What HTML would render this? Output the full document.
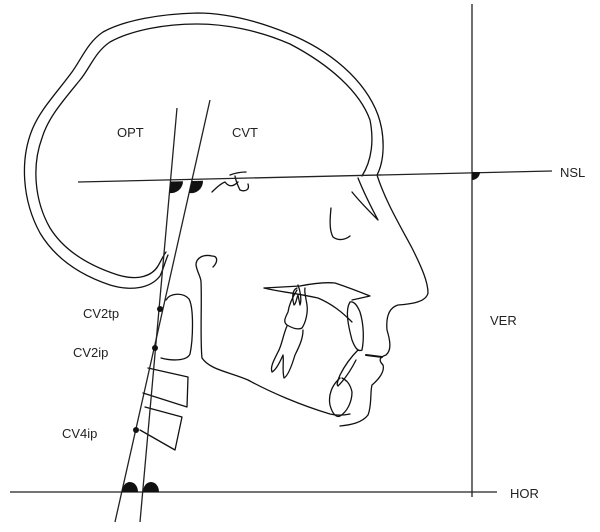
<!DOCTYPE html>
<html><head><style>
html,body{margin:0;padding:0;background:#fff;}
svg{display:block;}
text{font-family:"Liberation Sans",sans-serif;font-size:13px;fill:#222;}
</style></head><body>
<svg width="600" height="532" viewBox="0 0 600 532" xmlns="http://www.w3.org/2000/svg">
<g fill="none" stroke="#111" stroke-width="1.3" stroke-linecap="round" stroke-linejoin="round">
<!-- outer skull -->
<path d="M377,175 C385,160 385,135 378,115 C365,80 330,50 287,33 C255,20 225,13 197,13 C160,14 125,20 103,32 C88,42 82,58 72,72 C55,95 40,110 32,130 C20,160 22,200 40,233 C55,258 80,275 110,285 C130,291 150,289 160,276 C163,270 165,262 168,255"/>
<!-- inner skull -->
<path d="M362,176 C372,160 374,140 370,120 C360,92 330,65 290,44 C258,30 225,24 197,24 C165,24 132,30 110,42 C95,52 90,68 80,80 C62,102 48,118 42,138 C32,165 34,200 50,228 C65,252 90,266 118,275 C138,281 152,276 158,266 C161,261 163,256 166,252"/>
<!-- face profile -->
<path d="M377,175 C385,200 398,222 412,248 C422,268 428,282 428,293 C426,302 412,304 398,305 C388,308 386,318 387,330 C390,340 392,350 386,355 C380,357 378,360 383,365 C385,372 378,380 372,385 C370,392 372,405 368,415 C362,423 350,425 340,426"/>
<!-- nasal V -->
<path d="M358,178 C362,188 370,205 378,220 C370,212 360,202 352,192"/>
<!-- orbit L -->
<path d="M331,208 C330,218 329,230 333,237 C338,241 345,240 350,236"/>
<!-- squiggle -->
<path d="M212,192 C218,186 222,183 225,182 C228,186 232,188 238,182 M230,175 C238,172 243,172 246,172 M235,176 C236,182 238,186 240,190 C245,192 250,190 248,184"/>
<!-- pharynx / mandible -->
<path d="M213,267 C218,262 218,256 212,256 C203,254 196,258 196,265 C197,272 201,277 201,282 C202,300 200,340 202,358 C210,370 230,372 248,380 C270,392 300,405 330,414 C338,416 345,415 350,414"/>
<!-- palate -->
<path d="M264,288 L300,286 C315,283 325,282 335,283 C350,288 360,292 370,296 L352,300"/>
<path d="M264,288 C280,292 290,292 318,298 C332,304 342,312 352,322"/>
<!-- upper molar -->
<path d="M298,285 C300,290 302,300 300,305 L298,295 C296,300 296,304 294,305 C292,298 292,290 297,288 M297,290 C292,298 289,305 288,312 C285,318 283,322 287,325 C292,328 298,330 302,328 C306,322 308,312 307,305 C306,298 304,292 305,288"/>
<!-- lower molar -->
<path d="M287,326 C283,335 282,345 278,352 C274,360 270,367 272,372 C276,370 280,362 283,355 C284,362 282,370 284,378 C288,376 292,365 295,355 C300,345 303,338 303,330"/>
<!-- upper incisor -->
<path d="M350,302 C345,310 348,325 352,340 C355,348 358,352 362,350 C364,340 364,325 360,312 C357,305 354,301 350,302"/>
<!-- lower incisor -->
<path d="M358,350 C352,356 345,365 340,375 C338,380 336,385 338,386 C344,380 350,372 356,360"/>
<!-- symphysis -->
<path d="M340,378 C332,385 328,395 330,405 C332,413 336,418 340,416 C347,412 352,402 352,392 C350,383 346,380 342,378"/>
<!-- lip mark -->
<path d="M366,355 L382,357" stroke-width="2"/>
<!-- vertebrae -->
<path d="M166,300 C170,293 183,292 189,299 C194,308 193,340 190,354 C187,361 172,361 161,358"/>
<path d="M148,368 L188,377 L187,407 L143,393"/>
<path d="M145,407 L182,417 L175,450 L140,430"/>
</g>
<!-- reference lines -->
<g stroke="#222" stroke-width="1.3" fill="none">
<line x1="78" y1="182" x2="552" y2="171"/>
<line x1="472" y1="4" x2="472" y2="497"/>
<line x1="10" y1="492" x2="497" y2="492"/>
<line x1="177" y1="108" x2="140" y2="522"/>
<line x1="210" y1="100" x2="115" y2="522"/>
</g>
<!-- angle marks -->
<g fill="#111">
<path d="M170.5,181.5 L183,181.2 A12,12 0 0 1 169.5,193 Z"/>
<path d="M191.8,181 L203,180.8 A12,12 0 0 1 189,193 Z"/>
<path d="M472,172 L480,172 A8,8 0 0 1 472,180 Z"/>
<path d="M122,492 A8,10 0 0 1 138,492 Z"/>
<path d="M143,492 A8,10 0 0 1 159,492 Z"/>
<circle cx="160" cy="309" r="3"/>
<circle cx="155" cy="348" r="3"/>
<circle cx="136" cy="430" r="3"/>
</g>
<text x="117" y="137">OPT</text>
<text x="232" y="137">CVT</text>
<text x="560" y="177">NSL</text>
<text x="490" y="325">VER</text>
<text x="510" y="498">HOR</text>
<text x="83" y="318">CV2tp</text>
<text x="73" y="357">CV2ip</text>
<text x="62" y="438">CV4ip</text>
</svg>
</body></html>
